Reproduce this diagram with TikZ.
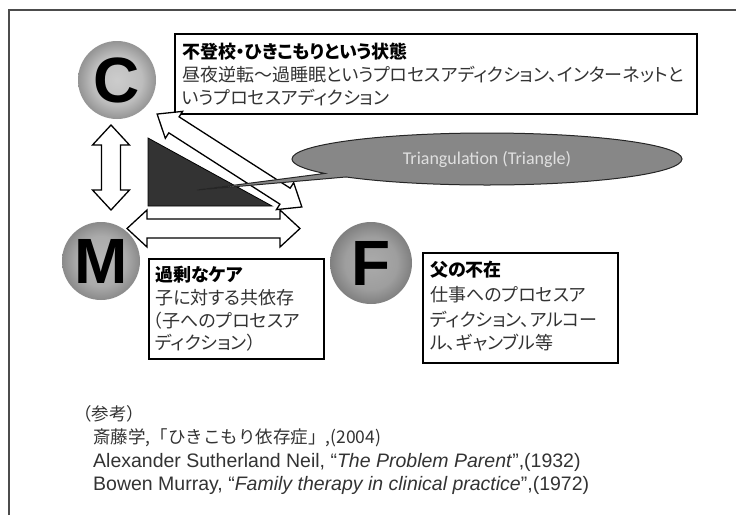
\documentclass[tikz,border=0pt]{standalone}
\usepackage{fontspec}
\setmainfont{Liberation Sans}
\newfontfamily\jp[RawFeature=+palt]{Noto Sans CJK JP}
\newfontfamily\jpw{Noto Sans CJK JP}
\newfontfamily\carl{Carlito}
\usetikzlibrary{shapes.callouts,shapes.geometric}
\pgfdeclareradialshading{ballC}{\pgfpoint{0bp}{0bp}}{color(0bp)=(black!20); color(16bp)=(black!26); color(25bp)=(black!42); color(50bp)=(black!42)}
\pgfdeclareradialshading{ballM}{\pgfpoint{0bp}{0bp}}{color(0bp)=(black!28); color(16bp)=(black!33); color(25bp)=(black!46); color(50bp)=(black!46)}
\pgfdeclareradialshading{ballF}{\pgfpoint{0bp}{0bp}}{color(0bp)=(black!33); color(16bp)=(black!38); color(25bp)=(black!50); color(50bp)=(black!50)}
\newcommand\blkarrow[5]{% cx cy angle length headhalf
\begin{scope}[shift={(#1,#2)},rotate=#3]
\pgfmathsetmacro\hlA{#4/2}
\pgfmathsetmacro\hbA{#4/2-20}
\draw[blockarrow] (-\hlA,0) -- (-\hbA,#5) -- (-\hbA,9.5) -- (\hbA,9.5) -- (\hbA,#5) -- (\hlA,0) -- (\hbA,-#5) -- (\hbA,-9.5) -- (-\hbA,-9.5) -- (-\hbA,-#5) -- cycle;
\end{scope}}
\tikzset{
  blockarrow/.style={draw=black, fill=white, line width=1.3pt, line join=miter},
  box/.style={draw=black, fill=white, line width=2pt, inner sep=0},
  letter/.style={circle, minimum size=78, inner sep=0, shade, font=\bfseries\fontsize{64}{64}\selectfont},
  jpb/.style={anchor=west, inner sep=0, font=\jp\bfseries\fontsize{18}{20}\selectfont, text=black},
  jpn/.style={anchor=west, inner sep=0, font=\jp\fontsize{18}{20}\selectfont, text=black!80},
  reftxt/.style={anchor=west, inner sep=0, text=black!80, font=\fontsize{19.5}{22}\selectfont},
  refjp/.style={anchor=west, inner sep=0, text=black!80, font=\jpw\fontsize{17.5}{20}\selectfont}
}
\begin{document}
\begin{tikzpicture}[x=1pt,y=-1pt]
\useasboundingbox (0,0) rectangle (736,515);
\fill[white] (0,0) rectangle (736,515);
% frame
\draw[black!70, line width=1.5pt] (9,515) -- (9,10) -- (736,10);
% circles
\node[letter, shading=ballC] (C) at (117,80) {C};
\node[letter, shading=ballM] (M) at (101,261) {M};
\node[letter, shading=ballF, minimum size=82] (F) at (371,263) {F};
% boxes
\node[box, minimum width=522, minimum height=80, anchor=north west] (cbox) at (174,33) {};
\node[jpb] (c1) at (182,52) {不登校・ひきこもりという状態};
\node[jpn] (c2) at (182,75) {昼夜逆転～過睡眠というプロセスアディクション、インターネットと};
\node[jpn] (c3) at (182,98) {いうプロセスアディクション};
\node[box, minimum width=175, minimum height=100, anchor=north west] (mbox) at (148,258) {};
\node[jpb] (m1) at (155,275) {過剰なケア};
\node[jpn] (m2) at (155,298) {子に対する共依存};
\node[jpn] (m3) at (153,321) {（子へのプロセスア};
\node[jpn] (m4) at (155,343) {ディクション）};
\node[box, minimum width=195, minimum height=110, anchor=north west] (fbox) at (422,252) {};
\node[jpb] (f1) at (430,270) {父の不在};
\node[jpn] (f2) at (430,295) {仕事へのプロセスア};
\node[jpn] (f3) at (430,320) {ディクション、アルコー};
\node[jpn] (f4) at (430,343) {ル、ギャンブル等};
% triangle
\draw[fill=black!80, line width=0.8pt] (148,138) -- (148,206) -- (272,206) -- cycle;
% block arrows
\blkarrow{111}{167.5}{90}{85}{18.5}
\blkarrow{213.5}{228.5}{0}{173}{18.5}
\blkarrow{229.5}{160.5}{147.3}{172}{16}
% callout
\node[ellipse callout, draw=black!85, fill=black!47, line width=1pt, minimum width=390, minimum height=52, inner sep=0,
  callout absolute pointer={(197,190)}, callout pointer arc=10,
  text=black!12, font=\carl\fontsize{18}{20}\selectfont] (tri) at (487,159) {Triangulation (Triangle)};
% references
\node[refjp] (r0) at (74,414) {（参考）};
\node[refjp] (r1) at (93,438) {斎藤学,「ひきこもり依存症」,(2004)};
\node[reftxt] (r2) at (93,462) {Alexander Sutherland Neil, “\textit{The Problem Parent}”,(1932)};
\node[reftxt] (r3) at (93,485) {Bowen Murray, “\textit{Family therapy in clinical practice}”,(1972)};
\end{tikzpicture}
\end{document}
